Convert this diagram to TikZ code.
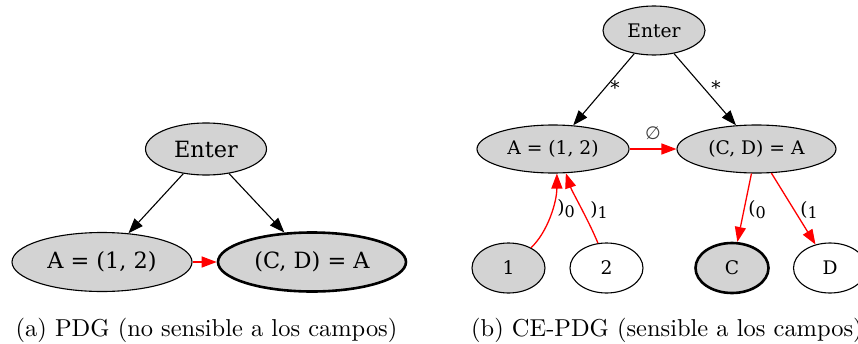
\documentclass[tikz,border=0pt]{standalone}
\usepackage{fontspec}
\usepackage{graphicx}
\newfontfamily\gvfont{DejaVu Serif}
\newfontfamily\symfont{DejaVu Sans}
\usetikzlibrary{arrows.meta,shapes.geometric}
\definecolor{gvgray}{HTML}{D3D3D3}
\newcommand{\lowidx}[1]{\raisebox{-0.4ex}{\fontsize{16}{18}\selectfont #1}}
% captions: 10pt design size, enlarged
\newcommand{\captionline}[1]{\scalebox{2.445}{\fontsize{10}{12}\selectfont #1}}
\tikzset{
  gv/.style={ellipse, draw=black, line width=1.1pt, inner sep=0pt,
             font=\gvfont\fontsize{18.7}{21}\selectfont},
  bigtext/.style={font=\gvfont\fontsize{22.4}{25}\selectfont},
  filled/.style={fill=gvgray},
  plain/.style={fill=white},
  heavy/.style={line width=2.6pt},
  dep/.style={draw=black, line width=1.1pt, -{Triangle[length=15pt,width=11pt]}},
  flow/.style={draw=red, line width=1.3pt, -{Triangle[length=15pt,width=11pt]}},
  elabel/.style={font=\gvfont\fontsize{18.5}{21}\selectfont, inner sep=0pt},
  captext/.style={inner sep=0pt, anchor=base west}
}
\begin{document}
\begin{tikzpicture}[x=1pt, y=-1pt]
  \useasboundingbox (0,0) rectangle (858,343);

  % (a) field-insensitive PDG
  \node[gv, filled, bigtext, minimum width=121pt, minimum height=52pt] (ea) at (206,149) {Enter};
  \node[gv, filled, bigtext, minimum width=180pt, minimum height=59pt] (aa) at (102,262) {A = (1, 2)};
  \node[gv, filled, heavy, bigtext, minimum width=188pt, minimum height=59pt] (ca) at (312,262) {(C, D) = A};
  \draw[dep] (ea) -- (aa);
  \draw[dep] (ea) -- (ca);
  \draw[flow] (aa) -- (ca);
  \node[captext] (capa) at (15.5,336) {\captionline{(a) PDG (no sensible a los campos)}};

  % (b) field-sensitive CE-PDG
  \node[gv, filled, minimum width=102pt, minimum height=49pt] (eb) at (654,30.5) {Enter};
  \node[gv, filled, minimum width=152pt, minimum height=48pt] (ab) at (553,149) {A = (1, 2)};
  \node[gv, filled, minimum width=159pt, minimum height=48pt] (cb) at (756.5,149) {(C, D) = A};
  \node[gv, filled, minimum width=73pt, minimum height=50pt] (one) at (508.5,268) {1};
  \node[gv, plain, minimum width=73pt, minimum height=50pt] (two) at (606.5,268) {2};
  \node[gv, filled, heavy, minimum width=73pt, minimum height=50pt] (cc) at (732,268) {C};
  \node[gv, plain, minimum width=73pt, minimum height=50pt] (dd) at (830,268) {D};

  \draw[dep] (eb) -- (ab);
  \draw[dep] (eb) -- (cb);
  \draw[flow] (ab) -- (cb);
  \draw[flow] (one.42) .. controls +(17,-16) and +(0,28) .. (ab.-81);
  \draw[flow] (two.109) .. controls +(-9,-22) and +(6,18) .. (ab.-62);
  \draw[flow] (cb) -- (cc);
  \draw[flow] (cb) -- (dd);

  \node[elabel] (s1) at (615,88) {*};
  \node[elabel] (s2) at (716,88) {*};
  \node[elabel, font=\symfont\fontsize{18}{20}\selectfont, text=black!75] (em) at (653,133) {∅};
  \node[elabel] (l0) at (566,209) {)\lowidx{0}};
  \node[elabel] (l1) at (599,210) {)\lowidx{1}};
  \node[elabel] (r0) at (757,210) {(\lowidx{0}};
  \node[elabel] (r1) at (809,210) {(\lowidx{1}};

  \node[captext] (capb) at (471,336) {\captionline{(b) CE-PDG (sensible a los campos)}};
\end{tikzpicture}
\end{document}
